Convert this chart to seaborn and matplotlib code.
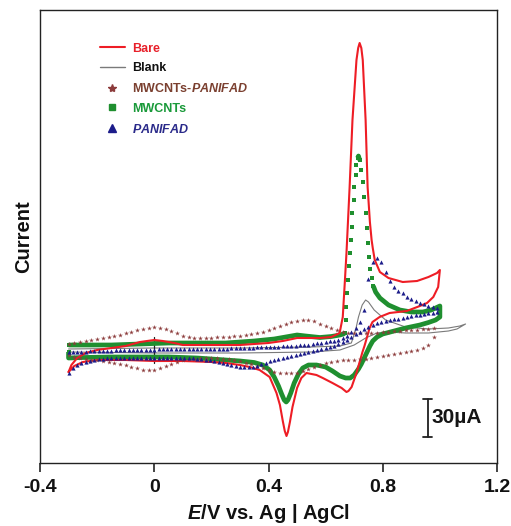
import numpy as np
import matplotlib
matplotlib.use("Agg")
import matplotlib.pyplot as plt
import seaborn as sns
from matplotlib.lines import Line2D

# Cyclic voltammograms: potential E (V vs. Ag|AgCl) and current I (µA)

# Bare electrode: anodic sweep, then cathodic sweep
bare_fwd_E = [-0.30, -0.29, -0.27, -0.24, -0.20, -0.15, -0.10, -0.05, 0.00, 0.03,
              0.07, 0.10, 0.20, 0.30, 0.40, 0.45, 0.50, 0.58, 0.62, 0.649,
              0.660, 0.667, 0.673, 0.684, 0.694, 0.708, 0.714, 0.719, 0.725, 0.730,
              0.740, 0.747, 0.755, 0.761, 0.765, 0.772, 0.790, 0.820, 0.870, 0.920,
              0.960, 0.990, 1.000]
bare_fwd_I = [-17.6, -12.0, -6.4, -2.4, 0.0, 1.6, 3.2, 6.4, 8.0, 7.2,
              5.6, 4.0, 4.0, 4.0, 5.6, 7.2, 9.6, 9.6, 10.4, 13.6,
              26.4, 53.6, 77.6, 130.4, 184.0, 232.0, 241.6, 245.6, 241.6, 232.0,
              184.0, 130.4, 102.4, 88.0, 81.6, 72.0, 62.4, 57.6, 54.4, 55.2,
              58.4, 61.6, 64.0]
bare_rev_E = [1.000, 0.994, 0.977, 0.955, 0.930, 0.884, 0.824, 0.789, 0.764, 0.754,
              0.743, 0.736, 0.729, 0.719, 0.708, 0.691, 0.680, 0.673, 0.656, 0.624,
              0.590, 0.568, 0.533, 0.515, 0.500, 0.484, 0.475, 0.468, 0.463, 0.457,
              0.450, 0.440, 0.428, 0.404, 0.369, 0.334, 0.300, 0.250, 0.200, 0.100,
              0.000, -0.100, -0.200, -0.250, -0.280, -0.300]
bare_rev_I = [64.0, 50.4, 42.4, 37.6, 35.2, 31.2, 29.6, 26.4, 22.4, 17.6,
              8.8, 3.2, -1.6, -9.6, -18.4, -29.6, -32.8, -33.6, -30.4, -26.4,
              -22.4, -20.0, -18.4, -22.4, -30.4, -45.6, -57.6, -65.6, -68.8, -64.8,
              -56.8, -44.0, -34.4, -21.6, -16.0, -13.6, -12.0, -10.4, -9.6, -8.8,
              -8.8, -8.0, -8.0, -9.6, -12.8, -17.6]

# Blank
blank_fwd_E = [-0.30, 0.00, 0.30, 0.55, 0.65, 0.69, 0.705, 0.715, 0.728, 0.740,
               0.750, 0.770, 0.810, 0.880, 0.960, 1.030, 1.070, 1.090]
blank_fwd_I = [0.8, 1.6, 1.6, 2.4, 3.2, 5.6, 16.0, 26.4, 36.0, 40.0,
               38.4, 32.0, 24.0, 18.4, 16.8, 17.6, 19.2, 20.8]
blank_rev_E = [1.060, 1.030, 0.960, 0.880, 0.820, 0.780, 0.740, 0.700, 0.650, 0.550,
               0.300, 0.000, -0.300]
blank_rev_I = [16.8, 15.2, 13.6, 13.6, 14.4, 13.6, 9.6, 4.0, 0.0, -1.6,
               -2.4, -2.4, -1.6]
# short vertical mark at 0 V
zero_mark_E = [0.0, 0.0]
zero_mark_I = [10.4, -10.4]

# MWCNTs
mw_fwd_E = [-0.30, -0.25, -0.15, -0.05, 0.05, 0.15, 0.25, 0.35, 0.42, 0.47,
            0.50, 0.53, 0.58, 0.62, 0.65, 0.662, 0.667, 0.670, 0.673, 0.676,
            0.679, 0.682, 0.685, 0.688, 0.691, 0.694, 0.698, 0.701, 0.705, 0.708,
            0.712, 0.715, 0.719, 0.724, 0.730, 0.735, 0.740, 0.744, 0.748, 0.752,
            0.757, 0.762, 0.767, 0.775, 0.790, 0.820, 0.860, 0.900, 0.940, 0.970,
            1.000]
mw_fwd_I = [4.0, 4.0, 4.0, 4.8, 5.6, 5.6, 5.6, 7.2, 8.8, 10.8,
            12.0, 11.2, 10.0, 10.8, 12.0, 12.8, 13.6, 24.0, 34.4, 45.6,
            56.0, 67.2, 77.6, 88.0, 98.4, 109.6, 120.0, 130.4, 140.0, 148.0,
            153.6, 155.2, 152.0, 144.0, 134.4, 122.4, 109.6, 97.6, 85.6, 74.4,
            64.8, 57.6, 51.2, 46.4, 41.6, 36.0, 32.0, 30.4, 30.4, 32.0,
            35.2]
mw_rev_E = [1.000, 1.000, 0.985, 0.960, 0.930, 0.880, 0.840, 0.800, 0.780, 0.765,
            0.755, 0.745, 0.735, 0.725, 0.715, 0.700, 0.686, 0.670, 0.650, 0.624,
            0.600, 0.568, 0.540, 0.520, 0.505, 0.490, 0.478, 0.468, 0.462, 0.455,
            0.446, 0.435, 0.420, 0.404, 0.380, 0.350, 0.300, 0.250, 0.150, 0.050,
            -0.050, -0.150, -0.250, -0.300, -0.300, -0.300]
mw_rev_I = [30.4, 26.4, 24.0, 22.0, 20.0, 17.6, 15.2, 12.8, 10.4, 7.2,
            3.2, -1.6, -6.4, -11.2, -15.2, -20.0, -22.4, -22.4, -20.8, -16.8,
            -13.6, -12.0, -12.0, -14.4, -19.2, -26.4, -34.4, -40.0, -41.6, -40.0,
            -35.2, -28.8, -21.6, -16.0, -12.0, -10.0, -8.8, -8.0, -6.4, -5.6,
            -5.6, -5.6, -6.0, -6.4, -1.6, 4.0]

# MWCNTs-PANIFAD, sampled every 20 mV
MWP_STEP = 0.02
mwp_fwd_I = [4.8, 5.6, 6.4, 7.2, 8.0, 8.8, 9.6, 10.4, 11.2, 12.4,      # -0.30 .. -0.12
             13.6, 14.8, 16.0, 17.2, 18.0, 18.4, 18.0, 16.8, 15.2, 13.6,  # -0.10 .. 0.08
             11.6, 10.4, 10.0, 10.0, 10.0, 10.0, 10.4, 10.4, 10.8, 11.2,  # 0.10 .. 0.28
             11.6, 12.0, 12.8, 13.6, 14.8, 16.0, 17.6, 19.6, 20.8, 22.4,  # 0.30 .. 0.48
             23.6, 24.4, 24.4, 23.2, 21.2, 19.2, 17.6, 16.0, 14.4, 13.6,  # 0.50 .. 0.68
             13.6, 13.6, 13.6, 13.6, 14.0, 14.4, 14.8, 15.2, 15.6, 16.0,  # 0.70 .. 0.88
             16.0, 16.4, 16.8, 17.2, 17.6]                               # 0.90 .. 0.98
mwp_rev_I = [10.4, 4.0, 1.6, 0.0, -0.8, -1.6, -2.4, -3.2, -4.0, -4.8,      # 0.98 .. 0.80
             -5.6, -6.4, -6.8, -7.2, -7.6, -8.0, -8.0, -8.4, -9.6, -10.4,   # 0.78 .. 0.60
             -12.0, -13.6, -15.2, -16.8, -18.0, -18.4, -18.4, -18.4, -17.6, -16.0,  # 0.58 .. 0.40
             -14.4, -12.8, -11.2, -10.0, -8.8, -8.0, -7.2, -6.8, -6.4, -6.4,  # 0.38 .. 0.20
             -6.4, -6.4, -6.8, -7.2, -8.0, -9.2, -10.8, -12.8, -14.4, -15.6,  # 0.18 .. 0.00
             -16.0, -15.6, -14.4, -13.2, -12.0, -11.2, -10.4, -9.6, -8.8, -8.0,  # -0.02 .. -0.20
             -7.6, -7.2, -6.4, -5.6, -4.0]                               # -0.22 .. -0.30
mwp_fwd_E = np.round(-0.30 + MWP_STEP * np.arange(len(mwp_fwd_I)), 3)
mwp_rev_E = mwp_fwd_E[::-1]

# PANIFAD, sampled every 15 mV
PAN_STEP = 0.015
pan_fwd_I = [-1.6, -1.6, -1.4, -1.3, -1.2, -1.0, -0.9, -0.8, -0.6, -0.5,   # -0.300 .. -0.165
             -0.4, -0.3, -0.2, 0.0, 0.0, 0.1, 0.2, 0.3, 0.4, 0.4,         # -0.150 .. -0.015
             0.4, 0.5, 0.5, 0.6, 0.6, 0.7, 0.8, 0.8, 0.8, 0.8,            # 0.000 .. 0.135
             0.8, 0.8, 0.8, 0.8, 0.9, 1.0, 1.1, 1.2, 1.4, 1.5,            # 0.150 .. 0.285
             1.6, 1.7, 1.8, 2.0, 2.1, 2.2, 2.3, 2.4, 2.6, 2.8,            # 0.300 .. 0.435
             3.0, 3.2, 3.4, 3.6, 3.8, 4.1, 4.4, 4.8, 5.4, 6.0,            # 0.450 .. 0.585
             6.4, 7.0, 7.6, 8.4, 9.4, 11.6, 14.4, 17.6, 22.4, 32.0,       # 0.600 .. 0.735
             56.8, 70.4, 73.6, 70.4, 62.4, 55.2, 50.4, 47.2, 45.6, 42.4,  # 0.750 .. 0.885
             40.8, 39.2, 37.6, 36.8, 35.2, 34.4, 33.6]                   # 0.900 .. 0.990
pan_rev_I = [30.4, 30.0, 29.6, 28.8, 28.4, 28.0, 27.2, 26.4, 26.0, 25.2,   # 0.990 .. 0.855
             24.8, 24.0, 23.2, 22.4, 21.6, 20.0, 18.4, 16.8, 14.8, 12.8,  # 0.840 .. 0.705
             10.4, 8.0, 6.4, 4.8, 3.6, 2.4, 1.6, 0.8, 0.0, -0.8,          # 0.690 .. 0.555
             -1.6, -2.0, -2.8, -3.6, -4.4, -5.2, -6.0, -6.8, -8.0, -8.8,  # 0.540 .. 0.405
             -10.0, -11.2, -12.4, -13.2, -13.6, -13.6, -13.2, -12.8, -12.0, -11.2,  # 0.390 .. 0.255
             -10.4, -9.6, -8.8, -8.0, -7.6, -7.2, -6.8, -6.4, -6.2, -6.0,  # 0.240 .. 0.105
             -6.0, -6.0, -6.0, -6.0, -6.0, -6.0, -6.0, -6.0, -6.0, -6.0,  # 0.090 .. -0.045
             -6.0, -6.0, -6.0, -6.0, -6.0, -6.0, -6.0, -6.4, -6.8, -7.2,  # -0.060 .. -0.195
             -8.0, -8.4, -9.2, -10.4, -12.0, -14.4, -18.4]               # -0.210 .. -0.300
pan_fwd_E = np.round(-0.30 + PAN_STEP * np.arange(len(pan_fwd_I)), 3)
pan_rev_E = pan_fwd_E[::-1]

TICKS = [-0.4, 0.0, 0.4, 0.8, 1.2]
TICK_LABELS = ["-0.4", "0", "0.4", "0.8", "1.2"]
SCALE_BAR_UA = 30

RED = "#ee1d25"
GRAY = "#7a7a7a"
GREEN = "#1f8f2f"
BROWN = "#8c3b3b"
NAVY = "#1c1c8a"

sns.set_style("white")
plt.rcParams["font.family"] = ["Liberation Sans", "DejaVu Sans"]
plt.rcParams["font.weight"] = "bold"
plt.rcParams["mathtext.fontset"] = "custom"
plt.rcParams["mathtext.it"] = "Liberation Sans:italic:bold"
plt.rcParams["mathtext.rm"] = "Liberation Sans:bold"
plt.rcParams["mathtext.bf"] = "Liberation Sans:bold"

fig = plt.figure(figsize=(5.11, 5.26), dpi=100)
ax = fig.add_axes([40 / 511, 63 / 526, 457 / 511, 453 / 526])
ax.set_xlim(-0.4, 1.2)
ax.set_ylim(-90.4, 272.0)

# Blank and bare electrode as continuous lines
sns.lineplot(x=blank_fwd_E + blank_rev_E, y=blank_fwd_I + blank_rev_I, sort=False,
             estimator=None, color=GRAY, linewidth=0.8, ax=ax, zorder=2)
sns.lineplot(x=zero_mark_E, y=zero_mark_I, sort=False, estimator=None,
             color="#202020", linewidth=0.9, ax=ax, zorder=2)

# MWCNTs: densely sampled squares merge into a thick trace,
# only the steep parts of the sweep show separate points
mw_E = np.array(mw_fwd_E + mw_rev_E)
mw_I = np.array(mw_fwd_I + mw_rev_I)
pts = ax.transData.transform(np.column_stack([mw_E, mw_I]))
d = np.diff(pts, axis=0)
steep = (np.abs(d[:, 1]) > 6) & (np.abs(d[:, 1]) > 3 * np.abs(d[:, 0]))
line_E, line_I = [mw_E[0]], [mw_I[0]]
for k, s in enumerate(steep):
    if s:
        line_E.append(np.nan)
        line_I.append(np.nan)
    line_E.append(mw_E[k + 1])
    line_I.append(mw_I[k + 1])
ax.plot(line_E, line_I, color=GREEN, lw=3.4, solid_capstyle="butt", zorder=3)
dot = np.zeros(len(mw_E), dtype=bool)
dot[:-1] |= steep
dot[1:] |= steep
sns.scatterplot(x=mw_E[dot], y=mw_I[dot], marker="s", s=11, color=GREEN,
                linewidth=0, ax=ax, zorder=3)

sns.lineplot(x=bare_fwd_E + bare_rev_E, y=bare_fwd_I + bare_rev_I, sort=False,
             estimator=None, color=RED, linewidth=1.5, ax=ax, zorder=4)

sns.scatterplot(x=np.concatenate([mwp_fwd_E, mwp_rev_E]), y=mwp_fwd_I + mwp_rev_I,
                marker="*", s=10, color=BROWN, linewidth=0.1, edgecolor=BROWN,
                ax=ax, zorder=5)
sns.scatterplot(x=np.concatenate([pan_fwd_E, pan_rev_E]), y=pan_fwd_I + pan_rev_I,
                marker="^", s=9, color=NAVY, linewidth=0, ax=ax, zorder=5)

# 30 µA scale bar
sb_E, sb_top = 0.957, -39.2
ax.plot([sb_E, sb_E], [sb_top, sb_top - SCALE_BAR_UA], color="#202020", lw=1.3)
for yy in (sb_top, sb_top - SCALE_BAR_UA):
    ax.plot([sb_E - 0.016, sb_E + 0.016], [yy, yy], color="#202020", lw=1.3)
ax.text(sb_E + 0.013, sb_top - SCALE_BAR_UA / 2, f"{SCALE_BAR_UA}µA", fontsize=15,
        fontweight="bold", ha="left", va="center", color="#151515")

# Legend
handles = [
    Line2D([], [], color=RED, lw=1.5),
    Line2D([], [], color=GRAY, lw=1.0),
    Line2D([], [], ls="none", marker="*", ms=6, color=BROWN),
    Line2D([], [], ls="none", marker="s", ms=5, color=GREEN),
    Line2D([], [], ls="none", marker="^", ms=5.5, color=NAVY),
]
labels = ["Bare", "Blank", r"MWCNTs-$\mathit{PANIFAD}$", "MWCNTs", r"$\mathit{PANIFAD}$"]
ax.legend(handles, labels, loc="upper left", bbox_to_anchor=(0.131, 0.928),
          frameon=False, prop={"weight": "bold", "size": 9},
          labelcolor=["#e8202a", "#111111", "#7b4030", "#1a9a3a", "#2a2a8a"],
          handlelength=2.0, handletextpad=0.6, labelspacing=0.62,
          borderpad=0, borderaxespad=0)

# Axes styling
ax.set_xticks(TICKS, TICK_LABELS)
ax.set_yticks([])
ax.tick_params(axis="x", bottom=True, direction="out", length=6.5, width=1.1,
               labelsize=14, pad=5, colors="#111111")
for sp in ax.spines.values():
    sp.set_visible(True)
    sp.set_linewidth(1.0)
    sp.set_color("#222222")
ax.set_xlabel(r"$\mathit{E}$/V vs. Ag | AgCl", fontsize=14.5, fontweight="bold",
              labelpad=4, color="#111111")
ax.set_ylabel("Current", fontsize=14.5, fontweight="bold", labelpad=5,
              color="#111111")

fig.savefig("out.png", dpi=100)
